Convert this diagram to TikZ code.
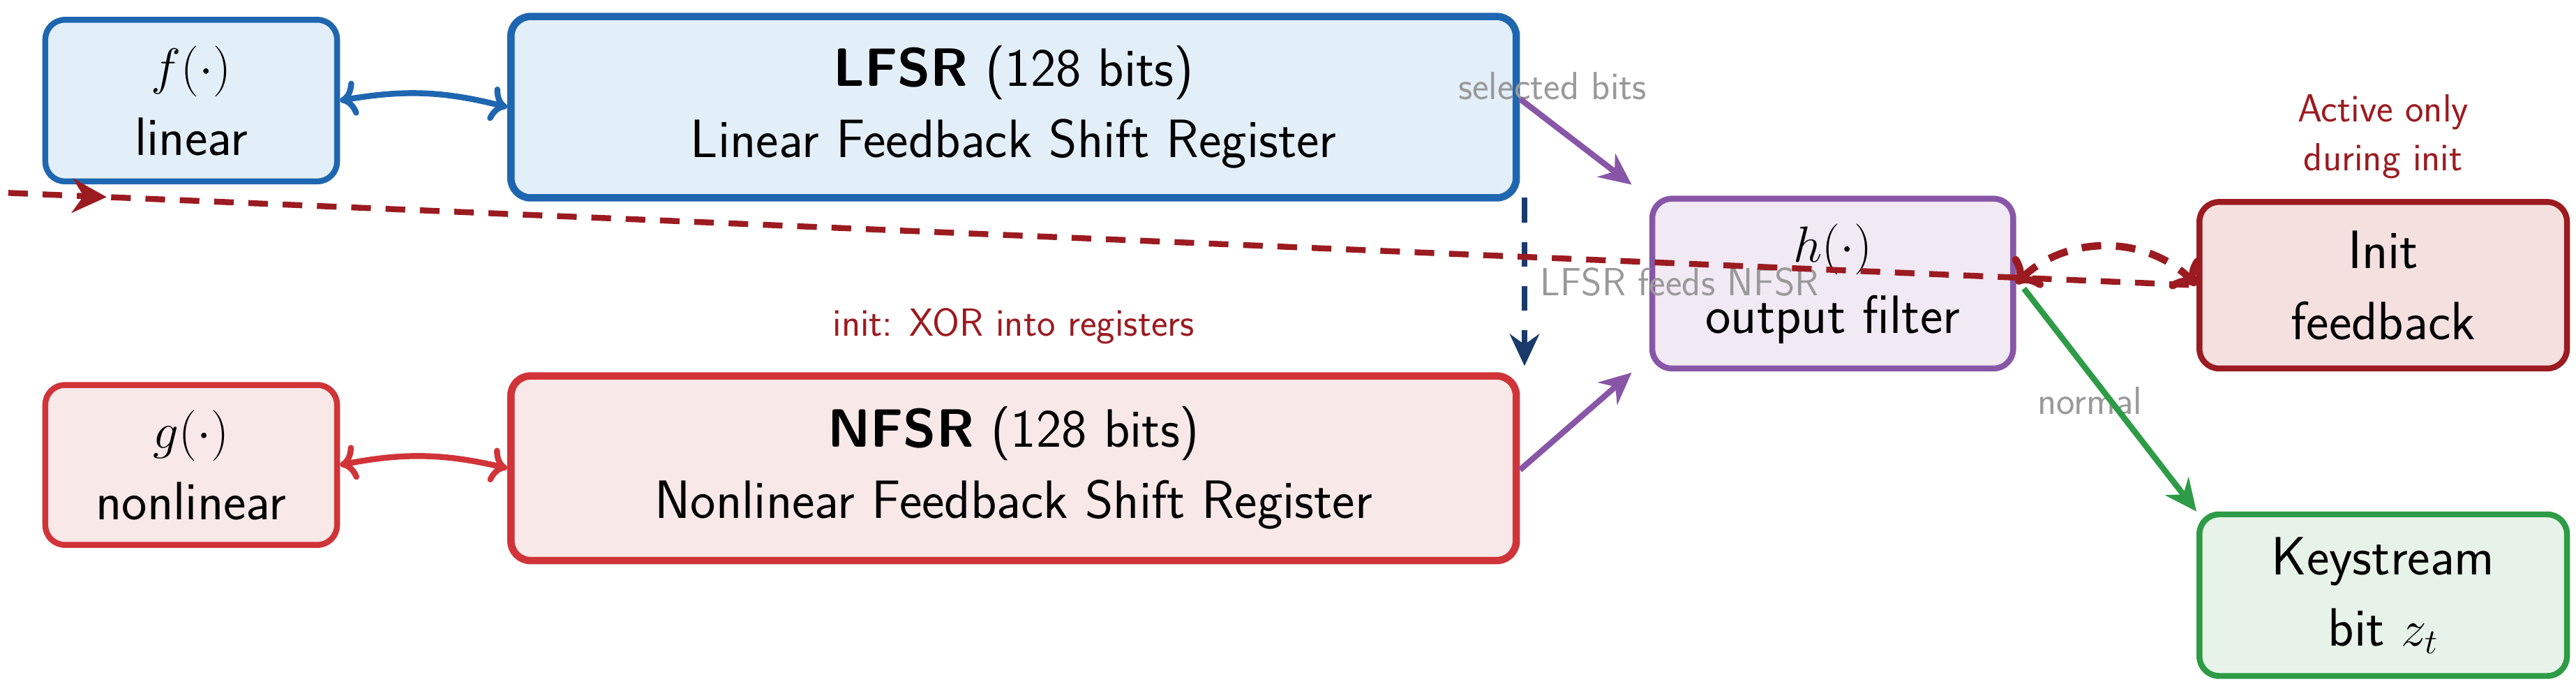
\documentclass[tikz,border=0pt]{standalone}
\usetikzlibrary{arrows.meta,decorations.markings}
\renewcommand{\familydefault}{\sfdefault}
\definecolor{lblue}{HTML}{1F66B0}\definecolor{lbluef}{HTML}{E3EFF8}
\definecolor{nred}{HTML}{D03438}\definecolor{nredf}{HTML}{F8E8E8}
\definecolor{hpurp}{HTML}{8856A7}\definecolor{hpurpf}{HTML}{F1E9F3}
\definecolor{ired}{HTML}{9B1B20}\definecolor{iredf}{HTML}{F5E0E0}
\definecolor{kgreen}{HTML}{2E9B46}\definecolor{kgreenf}{HTML}{E7F3E8}
\definecolor{navy}{HTML}{1A3A6B}
\tikzset{
  box/.style={draw, rounded corners=8, line width=2.4pt, align=center, inner sep=0, font=\fontsize{22}{29}\selectfont},
  note/.style={font=\fontsize{16}{20}\selectfont, align=center},
  arr/.style={-{Stealth[length=13pt,width=12pt]}, line width=2.4pt}
}
\begin{document}
\begin{tikzpicture}[x=0.02362cm, y=-0.02362cm]
\useasboundingbox (0,0) rectangle (1563,419);
\node[box, draw=lblue, fill=lbluef, minimum width=177*0.02362cm, minimum height=98*0.02362cm] (f) at (116,61) {$f(\cdot)$\\linear};
\node[box, draw=lblue, fill=lbluef, line width=3pt, minimum width=610*0.02362cm, minimum height=110*0.02362cm] (lfsr) at (615,65) {\textbf{LFSR} (128 bits)\\Linear Feedback Shift Register};
\node[box, draw=nred, fill=nredf, minimum width=177*0.02362cm, minimum height=97*0.02362cm] (g) at (116,282) {$g(\cdot)$\\nonlinear};
\node[box, draw=nred, fill=nredf, line width=3pt, minimum width=610*0.02362cm, minimum height=112*0.02362cm] (nfsr) at (615,284) {\textbf{NFSR} (128 bits)\\Nonlinear Feedback Shift Register};
\node[box, draw=hpurp, fill=hpurpf, minimum width=219*0.02362cm, minimum height=103*0.02362cm] (h) at (1112,172) {$h(\cdot)$\\output filter};
\node[box, draw=ired, fill=iredf, minimum width=223*0.02362cm, minimum height=101*0.02362cm] (init) at (1446,173) {Init\\feedback};
\node[box, draw=kgreen, fill=kgreenf, minimum width=223*0.02362cm, minimum height=98*0.02362cm] (ks) at (1446,361) {Keystream\\bit $z_t$};
\node[note, text=ired] (act) at (1446,83) {Active only\\during init};
\node[note, text=ired] (xor) at (615,198) {init: XOR into registers};
\node[note, text=black!40] (sel) at (942,52) {selected bits};
\node[note, text=black!40] (nrm) at (1268,243) {normal};
\coordinate (lin) at (5,117);
% connectors
\draw[arr, <->, draw=lblue] (f.east) to[bend left=12] (lfsr.west);
\draw[arr, <->, draw=nred] (g.east) to[bend left=12] (nfsr.west);
\draw[arr, draw=hpurp] (lfsr.east |- 0,60) -- (990,112);
\draw[arr, draw=hpurp] (nfsr.east |- 0,285) -- (990,226);
\draw[arr, draw=kgreen] (1228,175) -- (ks.north west);
\draw[arr, draw=navy, dash pattern=on 10pt off 8pt] (925,120) -- node[note, text=black!40, right, xshift=2pt]{LFSR feeds NFSR} (925,222);
\draw[ired, line width=2.4pt, dash pattern=on 8pt off 6pt, postaction={decorate}, decoration={markings, mark=at position 0.045 with {\arrow{Stealth[length=14pt,width=14pt]}}}] (lin) -- (init.west);
\draw[arr, <->, draw=ired, line width=3pt, dash pattern=on 8pt off 6pt] (h.east) to[bend left=45] (init.west);
\end{tikzpicture}
\end{document}
